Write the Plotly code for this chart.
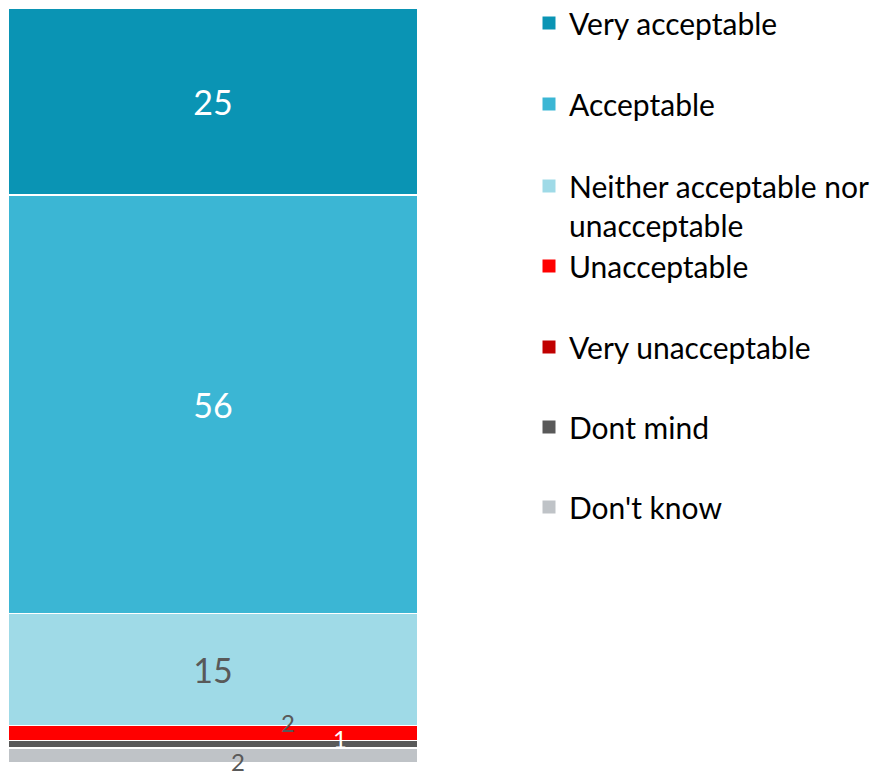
import plotly.graph_objects as go

categories = ["Don't know", "Dont mind", "Very unacceptable", "Unacceptable",
              "Neither acceptable nor<br>unacceptable", "Acceptable", "Very acceptable"]
values = [2, 1, 0, 2, 15, 56, 25]
colors = ["#BFC3C7", "#595959", "#C00000", "#FF0000", "#9FDAE7", "#3BB6D4", "#0A94B4"]
inside_label = [False, False, False, False, True, True, True]
label_colors = ["#595959", "#FFFFFF", "#FFFFFF", "#595959", "#595959", "#FFFFFF", "#FFFFFF"]

# the page body has an 8px margin, so the figure starts at (8, 8) in the window
OFF = 8
W, H = 880 - OFF, 771 - OFF
ML, MR, MT, MB = 0, 0, 0, 8
plot_h = H - MT - MB
plot_w = W - ML - MR
FONT = "Lato"

def px_x(x):  # window pixel -> paper x
    return (x - OFF - ML) / plot_w

def px_y(y):  # window pixel -> paper y
    return (H - MB - (y - OFF)) / plot_h

# outside-label placement (window pixel x, pixel y shift) for the thin segments
small_label_px = {0: 238, 1: 340, 3: 288}
small_label_shift = {0: -6, 1: 6, 3: 11}

# legend text centre (window pixels from the top)
legend_y_px = {6: 23, 5: 104, 4: 205.5, 3: 266, 2: 347, 1: 427, 0: 507}

fig = go.Figure()
legend_layouts = {}
for i, (cat, v, c) in enumerate(zip(categories, values, colors)):
    lname = "legend" if i == 6 else f"legend{7 - i}"
    fig.add_trace(go.Bar(
        x=[0], y=[v], name=cat, width=1,
        marker=dict(color=c, line=dict(color="white", width=1.5)),
        text=[str(v)] if inside_label[i] else [""],
        textposition="inside", insidetextanchor="middle", textangle=0,
        insidetextfont=dict(family=FONT, size=34, color=label_colors[i]),
        constraintext="none",
        hoverinfo="name+y",
        showlegend=False,
    ))
    fig.add_trace(go.Scatter(
        x=[None], y=[None], mode="markers", name=cat,
        marker=dict(symbol="square", size=13, color=c),
        legend=lname, showlegend=True, hoverinfo="skip",
    ))
    legend_layouts[lname] = dict(
        x=px_x(529), xanchor="left",
        y=px_y(legend_y_px[i]), yanchor="middle",
        font=dict(family=FONT, size=30, color="#000000"),
        bgcolor="rgba(0,0,0,0)", valign="top",
        itemwidth=30,
        itemclick=False, itemdoubleclick=False,
    )

cum = 0
for i, v in enumerate(values):
    mid = cum + v / 2
    cum += v
    if not inside_label[i] and v > 0:
        fig.add_annotation(
            x=px_x(small_label_px[i]), xref="paper", xanchor="center",
            y=mid, yref="y", yanchor="middle",
            text=str(v), showarrow=False, yshift=small_label_shift[i],
            font=dict(family=FONT, size=24, color=label_colors[i]),
        )

fig.update_layout(
    barmode="stack",
    width=W, height=H,
    margin=dict(l=ML, r=MR, t=MT, b=MB, autoexpand=False),
    plot_bgcolor="white", paper_bgcolor="white",
    xaxis=dict(domain=[0, 410 / plot_w], range=[-0.5, 0.5], visible=False, fixedrange=True),
    yaxis=dict(range=[0, sum(values)], visible=False, fixedrange=True),
    **legend_layouts,
)

fig.write_html("out.html")
